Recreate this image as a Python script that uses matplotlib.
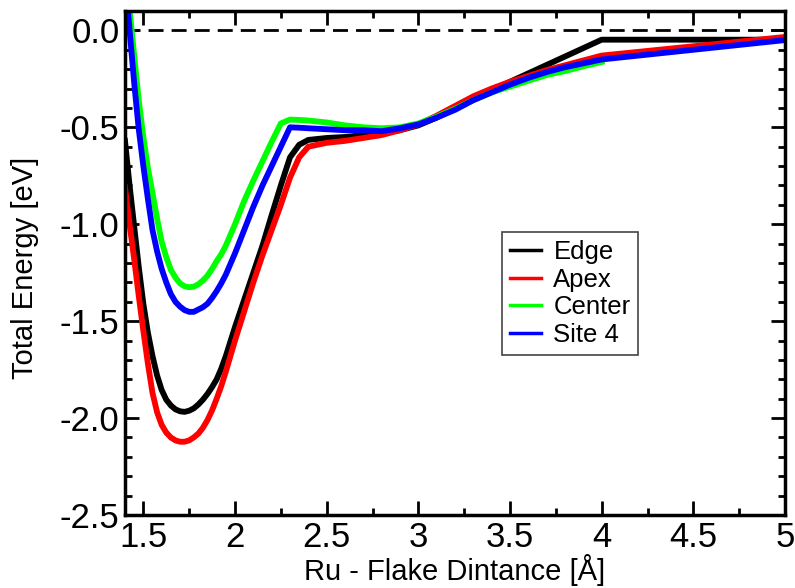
import numpy as np
import matplotlib
matplotlib.use("Agg")
import matplotlib.pyplot as plt
from matplotlib.ticker import MultipleLocator, FormatStrFormatter, FuncFormatter

plt.rcParams['font.family'] = ['Liberation Sans', 'DejaVu Sans']
plt.rcParams['axes.unicode_minus'] = False

# Abstand Ru - Flake [Angstrom]
x_well = [1.40, 1.425, 1.45, 1.475, 1.50, 1.525, 1.55, 1.575, 1.60, 1.625, 1.65,
          1.675, 1.70, 1.725, 1.75, 1.775, 1.80, 1.825, 1.85, 1.875, 1.90, 1.925,
          1.95, 2.00, 2.05, 2.10, 2.15, 2.20, 2.25, 2.30, 2.35, 2.40, 2.50, 2.60,
          2.70, 2.80, 2.90, 3.00, 3.10, 3.20, 3.30, 3.40, 3.50]

edge_well = [-0.57, -0.80, -1.01, -1.22, -1.41, -1.56, -1.68, -1.78, -1.855, -1.905,
             -1.935, -1.955, -1.965, -1.968, -1.962, -1.95, -1.93, -1.905, -1.875,
             -1.84, -1.80, -1.745, -1.68, -1.53, -1.39, -1.25, -1.11, -0.953, -0.80,
             -0.655, -0.59, -0.565, -0.555, -0.55, -0.54, -0.53, -0.515, -0.49, -0.45,
             -0.40, -0.355, -0.31, -0.265]
edge_x_tail = [4.0, 5.0]
edge_tail = [-0.048, -0.048]

apex_well = [-0.81, -1.00, -1.18, -1.37, -1.55, -1.72, -1.87, -1.97, -2.035, -2.075,
             -2.10, -2.115, -2.122, -2.122, -2.115, -2.10, -2.08, -2.05, -2.01, -1.96,
             -1.90, -1.835, -1.76, -1.60, -1.45, -1.30, -1.16, -1.03, -0.90, -0.76,
             -0.655, -0.60, -0.58, -0.57, -0.555, -0.54, -0.515, -0.485, -0.44, -0.39,
             -0.34, -0.30, -0.265]
apex_x_tail = [3.6, 3.7, 3.8, 3.9, 4.0, 5.0]
apex_tail = [-0.235, -0.205, -0.18, -0.155, -0.13, -0.034]

center_well = [0.36, 0.11, -0.13, -0.36, -0.55, -0.71, -0.84, -0.97, -1.09, -1.17,
               -1.235, -1.275, -1.305, -1.32, -1.325, -1.322, -1.31, -1.29, -1.265,
               -1.23, -1.19, -1.155, -1.11, -1.00, -0.88, -0.775, -0.675, -0.575, -0.48,
               -0.46, -0.462, -0.465, -0.475, -0.49, -0.50, -0.505, -0.50, -0.48, -0.445,
               -0.405, -0.36, -0.32, -0.29]
center_x_tail = [3.6, 3.7, 3.8, 3.9, 4.0]
center_tail = [-0.26, -0.23, -0.21, -0.185, -0.163]

site4_well = [0.28, 0.00, -0.27, -0.51, -0.70, -0.87, -1.03, -1.14, -1.23, -1.30,
              -1.36, -1.40, -1.425, -1.443, -1.452, -1.452, -1.44, -1.428, -1.41, -1.38,
              -1.345, -1.305, -1.26, -1.15, -1.03, -0.91, -0.80, -0.70, -0.60, -0.50,
              -0.502, -0.505, -0.51, -0.515, -0.515, -0.52, -0.505, -0.485, -0.45, -0.41,
              -0.36, -0.32, -0.28]
site4_x_tail = [3.6, 3.7, 3.8, 3.9, 4.0, 5.0]
site4_tail = [-0.245, -0.215, -0.19, -0.17, -0.15, -0.05]

labels = ["Edge", "Apex", "Center", "Site 4"]
colors = ["#000000", "#ff0000", "#00ff00", "#0000ff"]

series = [
    (x_well + edge_x_tail, edge_well + edge_tail),
    (x_well + apex_x_tail, apex_well + apex_tail),
    (x_well + center_x_tail, center_well + center_tail),
    (x_well + site4_x_tail, site4_well + site4_tail),
]

fig = plt.figure(figsize=(7.95, 5.88), dpi=100)
ax = fig.add_axes([125 / 795, 1 - 515 / 588, 660 / 795, 504 / 588])

# Nulllinie
ax.axhline(0.0, color="black", lw=2, dashes=(5.4, 2.9), zorder=1)

for (xs, ys), lab, col in zip(series, labels, colors):
    ax.plot(xs, ys, color=col, lw=4.2, label=lab, solid_joinstyle="round", zorder=2)

ax.set_xlim(1.4, 5.0)
ax.set_ylim(-2.5, 0.1)

ax.xaxis.set_major_locator(MultipleLocator(0.5))
ax.xaxis.set_minor_locator(MultipleLocator(0.25))
ax.yaxis.set_major_locator(MultipleLocator(0.5))
ax.yaxis.set_minor_locator(MultipleLocator(0.1))
ax.xaxis.set_major_formatter(FuncFormatter(lambda v, p: f"{v:g}"))
ax.yaxis.set_major_formatter(FormatStrFormatter("%.1f"))

ax.tick_params(which="both", direction="in", top=True, right=True, width=2)
ax.tick_params(which="major", length=10, labelsize=25, pad=4)
ax.tick_params(which="minor", length=5)
for s in ax.spines.values():
    s.set_linewidth(2.5)

ax.set_xlabel("Ru - Flake Dintance [Å]", fontsize=21, labelpad=0)
ax.set_ylabel("Total Energy [eV]", fontsize=21)
ax.yaxis.set_label_coords(-0.13, 0.49)

leg = ax.legend(loc="upper left", bbox_to_anchor=(502 / 795, 1 - 232 / 588),
                bbox_transform=fig.transFigure, borderaxespad=0, fontsize=18.5,
                handlelength=1.2, handletextpad=0.5, labelspacing=0.15,
                borderpad=0.3, fancybox=False, framealpha=1)
leg.get_frame().set_edgecolor("#444444")
leg.get_frame().set_linewidth(1.2)
for line in leg.get_lines():
    line.set_linewidth(2.5)

plt.savefig("out.png", dpi=100)
